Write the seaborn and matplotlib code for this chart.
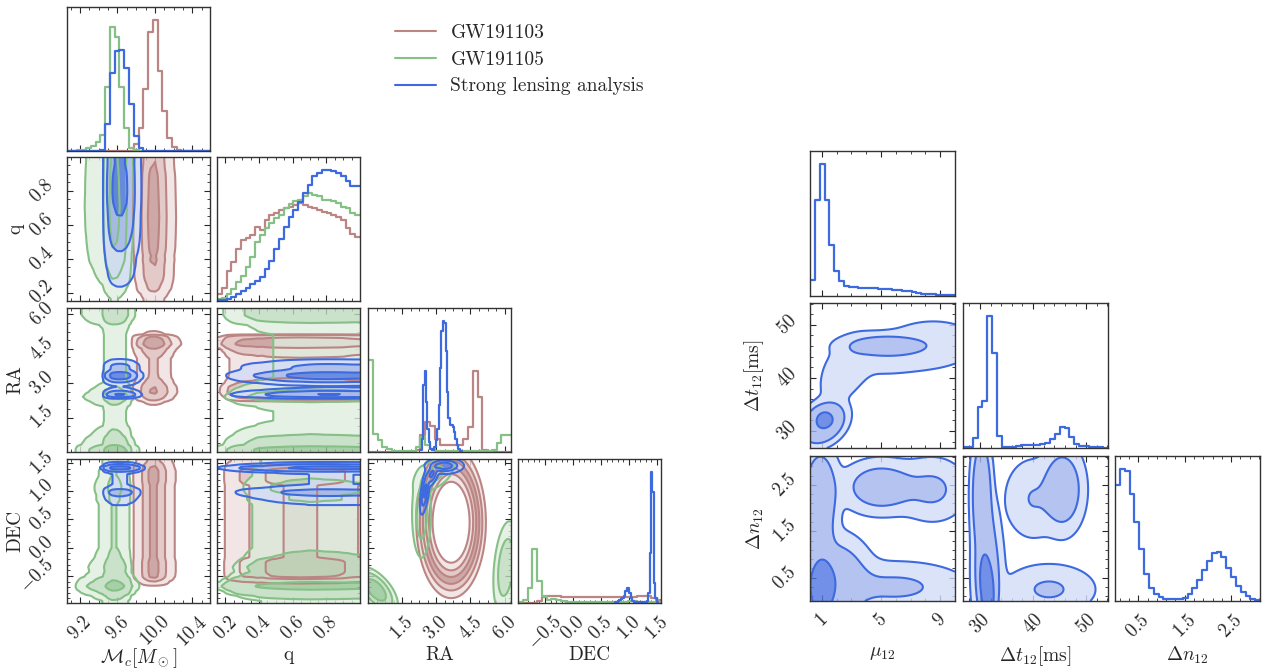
import numpy as np
import pandas as pd
import matplotlib
matplotlib.use("Agg")
import matplotlib.pyplot as plt
from matplotlib.ticker import FixedLocator, AutoMinorLocator
from matplotlib.lines import Line2D
import seaborn as sns

sns.set_style("ticks")
plt.rcParams['font.family'] = ['cmr10', 'DejaVu Serif']
plt.rcParams['mathtext.fontset'] = 'cm'
plt.rcParams['axes.formatter.use_mathtext'] = True
plt.rcParams['axes.unicode_minus'] = False

# ---------------- data ----------------
series_names = ["GW191103", "GW191105", "Strong lensing analysis"]
line_colors = ["#bb8583", "#86c086", "#3e6ae0"]
fill_colors = [["#efdfdf", "#dcbcbb", "#c19391"],
               ["#dfeedf", "#bcdbbc", "#93c593"],
               ["#d3dcf7", "#a3b5ee", "#4f74e1"]]
mass_probs = [0.99, 0.86, 0.39]

# left corner: axis ranges, labels, ticks
left_labels = [r"$\mathcal{M}_c[M_\odot]$", "q", "RA", "DEC"]
mc_range = (9.06, 10.59)
q_range = (0.15, 1.0)
ra_range = (0.0, 6.28)
dec_range = (-0.98, 1.57)
mc_ticks = [9.2, 9.6, 10.0, 10.4]
q_ticks = [0.2, 0.4, 0.6, 0.8]
ra_ticks = [1.5, 3.0, 4.5, 6.0]
dec_ticks = [-0.5, 0.0, 0.5, 1.0, 1.5]
mc_ticklabels = ["9.2", "9.6", "10.0", "10.4"]
q_ticklabels = ["0.2", "0.4", "0.6", "0.8"]
ra_ticklabels = ["1.5", "3.0", "4.5", "6.0"]
dec_ticklabels = ["-0.5", "0.0", "0.5", "1.0", "1.5"]

# 1D histogram heights (30 bins over the axis range unless a range is given)
mc_red = [0, 0, 0, 0, 0, 0, 0, 0, 0, 0, 0, 0, 0, 1, 22, 67, 182, 352, 387, 237,
          117, 37, 12, 4, 1, 0, 0, 0, 0, 0]
mc_green = [0, 0, 2, 4, 8, 15, 28, 48, 190, 367, 337, 190, 68, 8, 2, 0, 0, 0, 0, 0,
            0, 0, 0, 0, 0, 0, 0, 0, 0, 0]
mc_blue = [0, 0, 0, 0, 0, 0, 0, 3, 80, 230, 295, 298, 245, 140, 45, 8, 0, 0, 0, 0,
           0, 0, 0, 0, 0, 0, 0, 0, 0, 0]
q_red = [20, 40, 90, 115, 155, 180, 188, 195, 220, 210, 240, 255, 260, 270, 275,
         280, 285, 290, 285, 280, 275, 270, 265, 260, 255, 250, 240, 215, 200, 190]
q_green = [5, 10, 20, 35, 55, 75, 100, 130, 175, 195, 215, 230, 245, 255, 275,
           288, 295, 300, 310, 320, 315, 310, 300, 298, 295, 290, 280, 275, 262, 255]
q_blue = [2, 4, 7, 12, 20, 30, 38, 50, 58, 70, 95, 120, 155, 185, 220, 248, 270,
          292, 320, 345, 370, 380, 388, 388, 385, 380, 370, 355, 340, 340]
ra_red = [0, 0, 0, 0, 0, 0, 0, 0, 0, 0, 5, 50, 90, 77, 40, 22, 20, 20, 20, 20,
          40, 75, 240, 165, 5, 0, 0, 0, 0, 0]
ra_green = [274, 55, 35, 15, 8, 3, 2, 2, 2, 3, 15, 45, 20, 8, 3, 2, 2, 2, 2, 2,
            2, 2, 2, 2, 2, 3, 5, 27, 52, 52]
ra_blue_range = (2.3, 4.15)
ra_blue = [5, 40, 200, 242, 150, 70, 30, 10, 5, 5, 15, 35, 70, 140, 250, 360, 390,
           385, 300, 180, 100, 80, 80, 75, 60, 40, 20, 10, 4, 2]
dec_red = [0, 0, 0, 0, 5, 18, 20, 20, 20, 17, 17, 17, 17, 17, 17, 17, 17, 17, 17,
           17, 17, 17, 17, 17, 17, 20, 20, 20, 15, 8]
dec_green = [2, 8, 45, 162, 65, 20, 10, 12, 8, 5, 4, 3, 3, 3, 3, 3, 3, 3, 3, 3,
             3, 4, 4, 5, 5, 4, 3, 3, 2, 2]
dec_blue_range = (0.75, 1.52)
dec_blue = [2, 3, 5, 8, 12, 15, 22, 35, 45, 45, 30, 15, 6, 3, 2, 2, 2, 2, 2, 2,
            2, 2, 5, 30, 150, 390, 330, 60, 15, 3]

# RA-DEC joint structure: red ring (ra0, dec0, a, b, width), gaussian blobs
# (x, y, sx, sy, rho, weight)
red_radec_ring = (3.65, 0.45, 1.17, 1.03, 0.12)
green_radec_blobs = [(0.35, -0.75, 0.30, 0.13, -0.6, 0.50),
                     (6.05, -0.35, 0.20, 0.30, 0.3, 0.22),
                     (2.35, 0.60, 0.16, 0.30, 0.0, 0.13),
                     (2.90, 1.30, 0.35, 0.12, 0.5, 0.07)]
blue_radec_blobs = [(3.35, 1.45, 0.30, 0.05, 0.0, 0.55),
                    (2.50, 1.00, 0.08, 0.15, 0.6, 0.25),
                    (2.80, 1.30, 0.12, 0.08, 0.5, 0.20)]

# right corner (strong lensing analysis only)
right_labels = [r"$\mu_{12}$", r"$\Delta t_{12}[\mathrm{ms}]$", r"$\Delta n_{12}$"]
mu_range = (0.2, 10.0)
dt_range = (26.8, 54.1)
dn_range = (0.0, 3.12)
mu_ticks = [1, 5, 9]
dt_ticks = [30, 40, 50]
dn_ticks = [0.5, 1.5, 2.5]
mu_ticklabels = ["1", "5", "9"]
dt_ticklabels = ["30", "40", "50"]
dn_ticklabels = ["0.5", "1.5", "2.5"]
mu_hist = [48, 283, 388, 283, 150, 73, 43, 30, 27, 26, 25, 25, 24, 23, 22, 22, 20,
           19, 18, 16, 14, 12, 9, 7, 6, 5, 4, 3, 3, 2]
dt_hist = [2, 3, 30, 122, 140, 394, 284, 35, 4, 3, 4, 6, 9, 10, 10, 10, 13, 15, 28,
           42, 62, 60, 32, 12, 6, 5, 4, 2, 2, 1]
dn_hist = [345, 392, 387, 319, 234, 155, 80, 40, 22, 12, 7, 6, 6, 7, 10, 22, 40, 62,
           92, 120, 142, 146, 132, 99, 72, 45, 27, 15, 7, 2]
mu_dt_blobs = [(1.2, 32.2, 0.30, 0.8, 0.0, 0.28),
               (1.1, 31.5, 0.60, 1.6, 0.3, 0.44),
               (5.3, 46.0, 1.30, 1.0, 0.0, 0.16),
               (8.5, 46.5, 1.50, 2.2, 0.0, 0.04),
               (2.6, 41.5, 0.85, 3.2, 0.5, 0.04),
               (6.5, 44.5, 2.50, 2.8, 0.4, 0.04)]
mu_dn_blobs = [(1.0, 0.30, 0.40, 0.28, 0.0, 0.33),
               (1.8, 0.45, 1.20, 0.45, 0.0, 0.22),
               (6.0, 0.30, 2.50, 0.28, 0.0, 0.10),
               (0.9, 2.30, 0.60, 0.50, 0.0, 0.12),
               (5.0, 2.45, 1.30, 0.28, 0.0, 0.11),
               (8.5, 2.40, 1.20, 0.35, 0.0, 0.06),
               (0.9, 1.30, 0.50, 0.40, 0.0, 0.04)]
dt_dn_blobs = [(31.3, 0.30, 0.70, 0.35, -0.3, 0.40),
               (31.5, 0.50, 1.30, 0.60, 0.0, 0.12),
               (30.3, 2.30, 0.85, 0.55, 0.0, 0.14),
               (45.5, 2.40, 1.80, 0.40, 0.0, 0.15),
               (43.0, 0.25, 4.00, 0.25, 0.0, 0.06),
               (31.0, 1.40, 1.00, 0.50, 0.0, 0.05),
               (40.0, 2.20, 2.50, 0.40, 0.0, 0.05)]

# ---------------- helpers ----------------
W, H = 1271, 671
fig = plt.figure(figsize=(W / 100, H / 100), dpi=100)


def add_ax(x, y, w, h):
    return fig.add_axes([x / W, 1 - (y + h) / H, w / W, h / H])


def edges_of(n, rng):
    return np.linspace(rng[0], rng[1], n + 1)


def hist_density(h, rng, grid):
    h = np.asarray(h, float)
    e = edges_of(len(h), rng)
    c = 0.5 * (e[1:] + e[:-1])
    d = np.interp(grid, c, h)
    d[(grid < rng[0]) | (grid > rng[1])] = 0.0
    return d


def blob_density(blobs, X, Y):
    Z = np.zeros_like(X)
    for (x0, y0, sx, sy, rho, w) in blobs:
        dx = (X - x0) / sx
        dy = (Y - y0) / sy
        qq = (dx * dx - 2 * rho * dx * dy + dy * dy) / (1 - rho ** 2)
        Z += w / (2 * np.pi * sx * sy * np.sqrt(1 - rho ** 2)) * np.exp(-0.5 * qq)
    return Z


def ring_density(ring, X, Y):
    x0, y0, a, b, width = ring
    r = np.sqrt(((X - x0) / a) ** 2 + ((Y - y0) / b) ** 2)
    return np.exp(-0.5 * ((r - 1) / width) ** 2)


def draw_density(ax, X, Y, Z, k, lw=1.5):
    z = np.sort(Z.ravel())[::-1]
    c = np.cumsum(z)
    c /= c[-1]
    th = [z[min(np.searchsorted(c, p), len(z) - 1)] for p in mass_probs]
    lv = th + [Z.max() * 1.001]
    ax.contourf(X, Y, Z, levels=lv, colors=fill_colors[k], alpha=0.8)
    ax.contour(X, Y, Z, levels=th, colors=[line_colors[k]], linewidths=lw)


def style_ax(ax, xr, yr, xt, yt, xl_show, yl_show, xtl, ytl, diag=False):
    ax.set_xlim(*xr)
    if yr is not None:
        ax.set_ylim(*yr)
    ax.xaxis.set_major_locator(FixedLocator(xt))
    ax.xaxis.set_minor_locator(AutoMinorLocator())
    if diag:
        ax.set_yticks([])
        ax.tick_params(axis='x', which='both', direction='in', top=True, bottom=True)
    else:
        ax.yaxis.set_major_locator(FixedLocator(yt))
        ax.yaxis.set_minor_locator(AutoMinorLocator())
        ax.tick_params(which='both', direction='in', top=True, right=True,
                       left=True, bottom=True)
    ax.tick_params(which='major', length=4, width=0.8, labelsize=13.5, pad=7)
    ax.tick_params(which='minor', length=2, width=0.6)
    if xl_show:
        ax.set_xticklabels(["$" + s + "$" for s in xtl], rotation=45, fontsize=13.5)
    else:
        ax.set_xticklabels([])
    if not diag:
        if yl_show:
            ax.set_yticklabels(["$" + s + "$" for s in ytl], rotation=45,
                               va='center', fontsize=13.5)
        else:
            ax.set_yticklabels([])
    ax.set_xlabel("")
    ax.set_ylabel("")
    for s in ax.spines.values():
        s.set_linewidth(1.0)
        s.set_color("#333333")


def hist_panel(ax, hlist):
    top = 0
    for h, rng, k in hlist:
        e = edges_of(len(h), rng)
        c = 0.5 * (e[1:] + e[:-1])
        df = pd.DataFrame({"v": c, "w": np.asarray(h, float)})
        sns.histplot(data=df, x="v", weights="w", bins=len(h), binrange=rng,
                     element="step", fill=False, color=line_colors[k],
                     linewidth=1.6, ax=ax)
        top = max(top, max(h))
    ax.set_ylim(0, 1.1 * top)


# ---------------- left corner ----------------
left_ranges = [mc_range, q_range, ra_range, dec_range]
left_ticks = [mc_ticks, q_ticks, ra_ticks, dec_ticks]
left_tls = [mc_ticklabels, q_ticklabels, ra_ticklabels, dec_ticklabels]
left_hists = [
    [(mc_red, mc_range, 0), (mc_green, mc_range, 1), (mc_blue, mc_range, 2)],
    [(q_red, q_range, 0), (q_green, q_range, 1), (q_blue, q_range, 2)],
    [(ra_red, ra_range, 0), (ra_green, ra_range, 1), (ra_blue, ra_blue_range, 2)],
    [(dec_red, dec_range, 0), (dec_green, dec_range, 1), (dec_blue, dec_blue_range, 2)],
]
lx = [67, 217, 368, 518]
ly = [7, 157, 308, 459]
lw_, lh_ = 143, 144

for i in range(4):
    for j in range(i + 1):
        ax = add_ax(lx[j], ly[i], lw_, lh_)
        if i == j:
            hist_panel(ax, left_hists[i])
            style_ax(ax, left_ranges[j], None, left_ticks[j], None,
                     i == 3, False, left_tls[j], None, diag=True)
        else:
            gx = np.linspace(*left_ranges[j], 220)
            gy = np.linspace(*left_ranges[i], 220)
            X, Y = np.meshgrid(gx, gy)
            for k in range(3):
                if j == 2 and i == 3:
                    if k == 0:
                        Z = ring_density(red_radec_ring, X, Y)
                    elif k == 1:
                        Z = blob_density(green_radec_blobs, X, Y)
                    else:
                        Z = blob_density(blue_radec_blobs, X, Y)
                else:
                    hx, rx, _ = left_hists[j][k]
                    hy, ry, _ = left_hists[i][k]
                    Z = np.outer(hist_density(hy, ry, gy), hist_density(hx, rx, gx))
                draw_density(ax, X, Y, Z, k)
            style_ax(ax, left_ranges[j], left_ranges[i], left_ticks[j], left_ticks[i],
                     i == 3, j == 0, left_tls[j], left_tls[i])
        if i == 3:
            ax.set_xlabel(left_labels[j], fontsize=14)
            ax.xaxis.set_label_coords(0.5, -0.3)
        if j == 0 and i > 0:
            ax.set_ylabel(left_labels[i], fontsize=14)
            ax.yaxis.set_label_coords(-0.3, 0.5)

# ---------------- right corner ----------------
right_ranges = [mu_range, dt_range, dn_range]
right_ticks = [mu_ticks, dt_ticks, dn_ticks]
right_tls = [mu_ticklabels, dt_ticklabels, dn_ticklabels]
right_hists = [mu_hist, dt_hist, dn_hist]
right_blobs = {(1, 0): mu_dt_blobs, (2, 0): mu_dn_blobs, (2, 1): dt_dn_blobs}
rx_ = [810, 963, 1115]
ry_ = [151, 303, 456]
rs = 145

for i in range(3):
    for j in range(i + 1):
        ax = add_ax(rx_[j], ry_[i], rs, rs)
        if i == j:
            hist_panel(ax, [(right_hists[i], right_ranges[i], 2)])
            style_ax(ax, right_ranges[j], None, right_ticks[j], None,
                     i == 2, False, right_tls[j], None, diag=True)
        else:
            gx = np.linspace(*right_ranges[j], 220)
            gy = np.linspace(*right_ranges[i], 220)
            X, Y = np.meshgrid(gx, gy)
            Z = blob_density(right_blobs[(i, j)], X, Y)
            draw_density(ax, X, Y, Z, 2)
            style_ax(ax, right_ranges[j], right_ranges[i], right_ticks[j],
                     right_ticks[i], i == 2, j == 0, right_tls[j], right_tls[i])
        if i == 2:
            ax.set_xlabel(right_labels[j], fontsize=14)
            ax.xaxis.set_label_coords(0.5, -0.3)
        if j == 0 and i > 0:
            ax.set_ylabel(right_labels[i], fontsize=14)
            ax.yaxis.set_label_coords(-0.3, 0.5)

# ---------------- legend ----------------
handles = [Line2D([], [], color=line_colors[k], lw=1.5) for k in range(3)]
fig.legend(handles, series_names, loc="upper left",
           bbox_to_anchor=(395 / W, 1 - 24 / H), frameon=False, fontsize=14,
           handlelength=2.1, handletextpad=0.75, labelspacing=0.45,
           borderpad=0, borderaxespad=0)

fig.savefig("out.png", dpi=100)
